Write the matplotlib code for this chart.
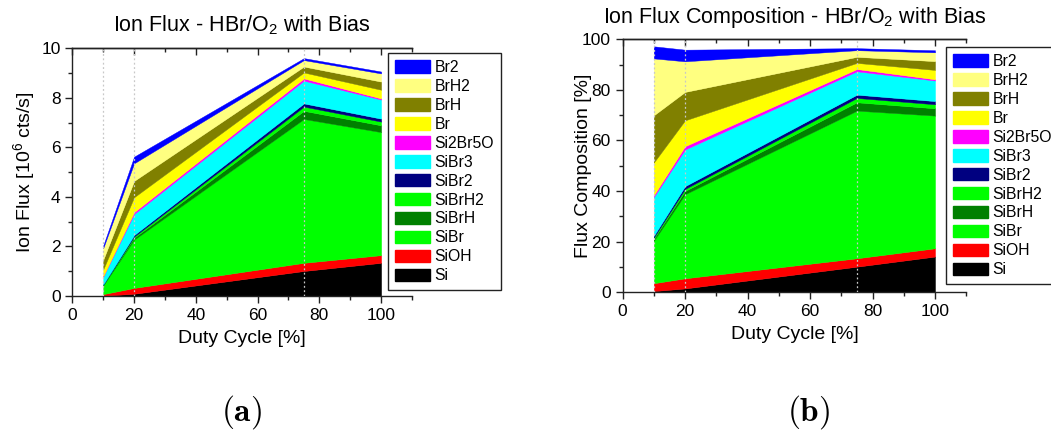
import matplotlib
matplotlib.use("Agg")
import matplotlib.pyplot as plt
import numpy as np
from matplotlib.patches import Patch
from matplotlib.ticker import MultipleLocator

# Duty cycle settings [%]
duty_cycle = [10, 20, 75, 100]

# Ion flux per species [10^6 cts/s]
si = [0.01, 0.09, 1.01, 1.34]
sioh = [0.065, 0.235, 0.33, 0.31]
sibr = [0.35, 1.95, 5.81, 4.97]
sibrh = [0.017, 0.076, 0.33, 0.275]
sibrh2 = [0.010, 0.047, 0.17, 0.15]
sibr2 = [0.015, 0.065, 0.13, 0.12]
sibr3 = [0.32, 0.85, 0.92, 0.77]
si2br5o = [0.015, 0.076, 0.09, 0.047]
br = [0.27, 0.60, 0.24, 0.35]
brh = [0.39, 0.66, 0.24, 0.33]
brh2 = [0.47, 0.71, 0.26, 0.33]
br2 = [0.10, 0.27, 0.08, 0.076]

# Total measured ion flux, including species not plotted [10^6 cts/s]
total_flux = [2.09, 5.87, 9.96, 9.48]

species = ["Si", "SiOH", "SiBr", "SiBrH", "SiBrH2", "SiBr2",
           "SiBr3", "Si2Br5O", "Br", "BrH", "BrH2", "Br2"]
fluxes = [si, sioh, sibr, sibrh, sibrh2, sibr2,
          sibr3, si2br5o, br, brh, brh2, br2]
colors = ["#000000", "#ff0000", "#00ff00", "#008000", "#00ff00", "#000080",
          "#00ffff", "#ff00ff", "#ffff00", "#808000", "#ffff80", "#0000ff"]

plt.rcParams["font.family"] = ["Liberation Sans", "DejaVu Sans"]
plt.rcParams["mathtext.fontset"] = "custom"
plt.rcParams["mathtext.rm"] = "Liberation Sans"
plt.rcParams["mathtext.it"] = "Liberation Sans"

fig = plt.figure(figsize=(10.51, 4.37), dpi=100)
ax1 = fig.add_axes([0.0688, 0.3227, 0.3232, 0.5664])
ax2 = fig.add_axes([0.5923, 0.3311, 0.3271, 0.5790])

x = np.array(duty_cycle, dtype=float)
flux_arr = np.array(fluxes, dtype=float)
pct_arr = flux_arr / np.array(total_flux) * 100.0


def draw_stack(ax, values):
    base = np.zeros_like(x)
    for vals, col in zip(values, colors):
        top = base + vals
        ax.fill_between(x, base, top, facecolor=col, edgecolor=col,
                        linewidth=0.3, zorder=2)
        base = top
    for xv in duty_cycle[:3]:
        ax.axvline(xv, color="#c8c8c8", ls=(0, (1.5, 2.0)), lw=0.9, zorder=3)


def style_axes(ax, ymax, ymajor, yminor):
    ax.set_xlim(0, 110)
    ax.set_ylim(0, ymax)
    ax.xaxis.set_major_locator(MultipleLocator(20))
    ax.xaxis.set_minor_locator(MultipleLocator(10))
    ax.yaxis.set_major_locator(MultipleLocator(ymajor))
    ax.yaxis.set_minor_locator(MultipleLocator(yminor))
    ax.set_xticks([0, 20, 40, 60, 80, 100])
    ax.spines["right"].set_visible(False)
    for s in ("left", "bottom", "top"):
        ax.spines[s].set_linewidth(1.0)
        ax.spines[s].set_color("#222222")
    ax.tick_params(which="both", direction="out", top=False, right=False,
                   labelsize=12.5, color="#222222")
    ax.tick_params(which="major", length=5, width=1.0)
    ax.tick_params(which="minor", length=3, width=1.0)
    ax.set_xlabel("Duty Cycle [%]", fontsize=14, labelpad=5)
    # inward ticks along the top edge
    sec = ax.secondary_xaxis("top")
    sec.xaxis.set_major_locator(MultipleLocator(20))
    sec.xaxis.set_minor_locator(MultipleLocator(10))
    sec.tick_params(which="both", direction="in", labeltop=False, color="#222222")
    sec.tick_params(which="major", length=5, width=1.0)
    sec.tick_params(which="minor", length=3, width=1.0)
    sec.spines["top"].set_linewidth(1.0)


def add_legend(anchor):
    handles = [Patch(facecolor=c, edgecolor=c) for c in colors][::-1]
    leg = fig.legend(handles, species[::-1], loc="upper left",
                     bbox_to_anchor=anchor, bbox_transform=fig.transFigure,
                     fontsize=11.3, frameon=True, fancybox=False,
                     edgecolor="#222222", framealpha=1.0,
                     handlelength=2.2, handleheight=0.85, handletextpad=0.3,
                     labelspacing=0.25, borderpad=0.45, borderaxespad=0.0)
    leg.get_frame().set_linewidth(1.0)
    leg.set_zorder(10)
    return leg


draw_stack(ax1, flux_arr)
style_axes(ax1, 10, 2, 1)
ax1.set_ylabel("Ion Flux [10$^6$ cts/s]", fontsize=14)
ax1.yaxis.set_label_coords(-0.104, 0.5)
ax1.set_title("Ion Flux - HBr/O$_2$ with Bias", fontsize=15.5, pad=12)
add_legend((0.3692, 0.8787))

draw_stack(ax2, pct_arr)
style_axes(ax2, 100, 20, 10)
ax2.set_ylabel("Flux Composition [%]", fontsize=14)
ax2.yaxis.set_label_coords(-0.089, 0.5)
ax2.set_title("Ion Flux Composition - HBr/O$_2$ with Bias", fontsize=15.5, pad=12)
add_legend((0.9001, 0.8924))

# panel captions
cap = dict(fontsize=24, ha="center", va="center")
fig.text(0.2295, 0.058, r"$\mathbf{(a)}$", math_fontfamily="cm", **cap)
fig.text(0.7690, 0.058, r"$\mathbf{(b)}$", math_fontfamily="cm", **cap)

fig.savefig("out.png", dpi=100)
